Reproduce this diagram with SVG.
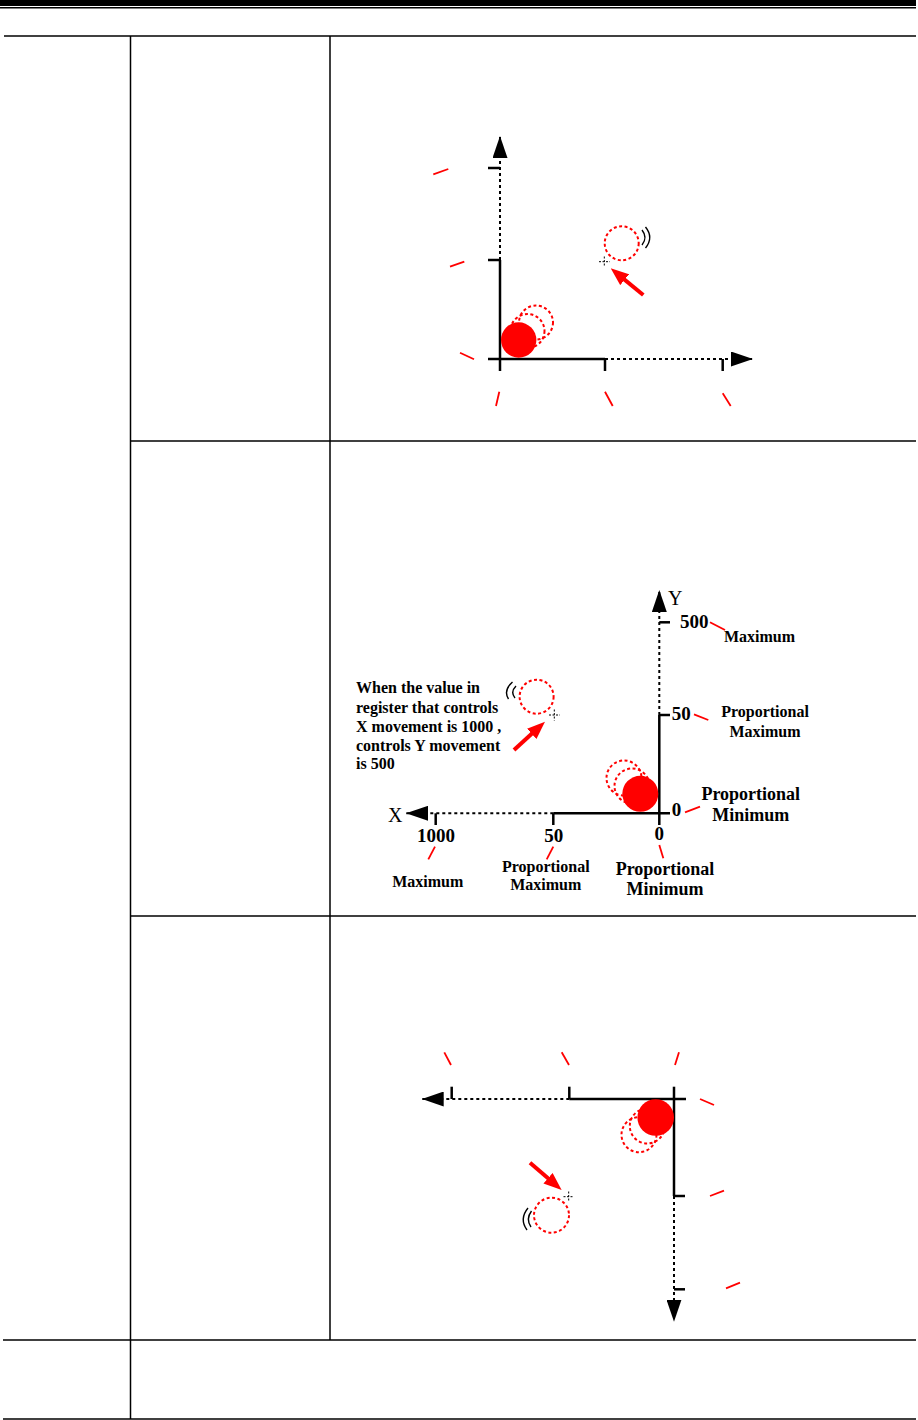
<svg xmlns="http://www.w3.org/2000/svg" width="918" height="1420" viewBox="0 0 918 1420">
<style>
.grid{stroke:#000;stroke-width:1.5;fill:none}
.axis{stroke:#000;stroke-width:2.5;fill:none}
.dot{stroke:#000;stroke-width:2;stroke-dasharray:3 3;fill:none}
.lead{stroke:#f00;stroke-width:1.8;fill:none}
.ghost{fill:none;stroke:#f00;stroke-width:2;stroke-dasharray:3 2.5}
.ball{fill:#f00}
.wave{fill:none;stroke:#000;stroke-width:1.4}
.cross{stroke:#000;stroke-width:1;stroke-dasharray:2 1.5}
.push{stroke:#f00;stroke-width:4;fill:none}
.lb{font-family:"Liberation Serif","Times New Roman",serif;font-weight:bold;fill:#000}
.ax{font-family:"Liberation Serif","Times New Roman",serif;font-size:20px;fill:#000}
.s16{font-size:16px}
.s18{font-size:18px}
.s19{font-size:19px}
</style>
<defs>
<marker id="ah" markerUnits="userSpaceOnUse" markerWidth="22" markerHeight="15" refX="22" refY="7.5" orient="auto"><path d="M0,0 L22,7.5 L0,15 z" fill="#000"/></marker>
<marker id="rh" markerUnits="userSpaceOnUse" markerWidth="18" markerHeight="14" refX="10" refY="7" orient="auto"><path d="M0,0 L18,7 L0,14 z" fill="#f00"/></marker>
</defs>

<g id="frame">
<rect x="0" y="0" width="916" height="6" fill="#000"/>
<line class="grid" x1="0" y1="7.75" x2="916" y2="7.75"/>
<line class="grid" x1="4" y1="36" x2="916" y2="36"/>
<line class="grid" x1="130.5" y1="36" x2="130.5" y2="1419"/>
<line class="grid" x1="330" y1="36" x2="330" y2="1340"/>
<line class="grid" x1="130.5" y1="441" x2="916" y2="441"/>
<line class="grid" x1="130.5" y1="916" x2="916" y2="916"/>
<line class="grid" x1="3" y1="1340" x2="916" y2="1340"/>
<line class="grid" x1="3" y1="1419" x2="916" y2="1419"/>
</g>

<g id="panel1">
<line class="axis" x1="500" y1="359" x2="500" y2="260"/>
<line class="dot" x1="500" y1="260" x2="500" y2="136" marker-end="url(#ah)"/>
<line class="axis" x1="488" y1="359" x2="605" y2="359"/>
<line class="dot" x1="605" y1="359" x2="753" y2="359" marker-end="url(#ah)"/>
<line class="axis" x1="488" y1="168" x2="500" y2="168"/>
<line class="axis" x1="488" y1="260" x2="500" y2="260"/>
<line class="axis" x1="500" y1="359" x2="500" y2="371"/>
<line class="axis" x1="605" y1="359" x2="605" y2="371"/>
<line class="axis" x1="722.7" y1="359" x2="722.7" y2="371"/>
<line class="lead" x1="433.3" y1="174.3" x2="448.3" y2="169"/>
<line class="lead" x1="450" y1="266.7" x2="464.3" y2="261.7"/>
<line class="lead" x1="460" y1="352.7" x2="474" y2="359.3"/>
<line class="lead" x1="499.3" y1="391.7" x2="496" y2="406"/>
<line class="lead" x1="605" y1="391.7" x2="612.7" y2="406"/>
<line class="lead" x1="722.7" y1="393.3" x2="730.7" y2="406"/>
<circle class="ghost" cx="536" cy="322.5" r="17"/>
<circle class="ghost" cx="527.5" cy="331" r="17"/>
<circle class="ball" cx="518.7" cy="340" r="17.7"/>
<circle class="ghost" cx="621.7" cy="243.3" r="17"/>
<path class="wave" d="M642,230 Q648,237.5 642,245 M645.5,227 Q654,237.5 645.5,248"/>
<line class="cross" x1="599" y1="261.7" x2="610" y2="261.7"/>
<line class="cross" x1="604.3" y1="256.5" x2="604.3" y2="267"/>
<line class="push" x1="643.3" y1="295" x2="616.9" y2="273.4" marker-end="url(#rh)"/>
</g>

<g id="panel2">
<line class="axis" x1="659.3" y1="825" x2="659.3" y2="715"/>
<line class="dot" x1="659.3" y1="715" x2="659.3" y2="590" marker-end="url(#ah)"/>
<line class="axis" x1="659.3" y1="622.3" x2="670" y2="622.3"/>
<line class="axis" x1="659.3" y1="715" x2="670" y2="715"/>
<line class="axis" x1="553.3" y1="813.3" x2="670" y2="813.3"/>
<line class="dot" x1="553.3" y1="813.3" x2="406" y2="813.3" marker-end="url(#ah)"/>
<line class="axis" x1="435.7" y1="813.3" x2="435.7" y2="825"/>
<line class="axis" x1="553.3" y1="813.3" x2="553.3" y2="825"/>
<text class="ax" x="668" y="605">Y</text>
<text class="ax" x="388" y="821.7">X</text>
<text class="lb s19" x="680" y="627.7">500</text>
<text class="lb s19" x="671.7" y="720">50</text>
<text class="lb s19" x="671.7" y="816">0</text>
<text class="lb s19" x="436" y="841.7" text-anchor="middle">1000</text>
<text class="lb s19" x="553.7" y="841.7" text-anchor="middle">50</text>
<text class="lb s19" x="659.3" y="840" text-anchor="middle">0</text>
<line class="lead" x1="710" y1="622.3" x2="725" y2="630"/>
<line class="lead" x1="694" y1="714.3" x2="708.3" y2="720"/>
<line class="lead" x1="685" y1="812.3" x2="700" y2="806.7"/>
<line class="lead" x1="659.3" y1="845" x2="663.3" y2="858.3"/>
<line class="lead" x1="435" y1="846.7" x2="428.3" y2="859.3"/>
<line class="lead" x1="553.3" y1="846.7" x2="546.7" y2="859.3"/>
<text class="lb s16" x="759.5" y="642" text-anchor="middle">Maximum</text>
<text class="lb s16" x="765" y="716.7" text-anchor="middle">Proportional</text>
<text class="lb s16" x="765" y="736.7" text-anchor="middle">Maximum</text>
<text class="lb s18" x="750.8" y="800" text-anchor="middle">Proportional</text>
<text class="lb s18" x="750.8" y="820.7" text-anchor="middle">Minimum</text>
<text class="lb s18" x="665" y="875" text-anchor="middle">Proportional</text>
<text class="lb s18" x="665" y="895" text-anchor="middle">Minimum</text>
<text class="lb s16" x="427.7" y="887.3" text-anchor="middle">Maximum</text>
<text class="lb s16" x="545.8" y="871.7" text-anchor="middle">Proportional</text>
<text class="lb s16" x="545.8" y="890" text-anchor="middle">Maximum</text>
<text class="lb s16" x="356" y="693.3">When the value in</text>
<text class="lb s16" x="356" y="712.7">register that controls</text>
<text class="lb s16" x="356" y="731.7">X movement is 1000 ,</text>
<text class="lb s16" x="356" y="750.7">controls Y movement</text>
<text class="lb s16" x="356" y="769.3">is 500</text>
<circle class="ghost" cx="624" cy="778" r="17.5"/>
<circle class="ghost" cx="632" cy="786" r="17.5"/>
<circle class="ball" cx="640.3" cy="793.8" r="18"/>
<circle class="ghost" cx="536.6" cy="696.7" r="17"/>
<path class="wave" d="M516,686 Q510,692 515,698 M512.5,682 Q503,690.5 508.5,699"/>
<line class="cross" x1="549" y1="715" x2="560" y2="715"/>
<line class="cross" x1="554.3" y1="709.5" x2="554.3" y2="720.5"/>
<line class="push" x1="514" y1="750" x2="539.1" y2="727.1" marker-end="url(#rh)"/>
</g>

<g id="panel3">
<line class="axis" x1="569.3" y1="1099" x2="686" y2="1099"/>
<line class="dot" x1="569.3" y1="1099" x2="421.7" y2="1099" marker-end="url(#ah)"/>
<line class="axis" x1="451.7" y1="1086.7" x2="451.7" y2="1099"/>
<line class="axis" x1="569.3" y1="1086.7" x2="569.3" y2="1099"/>
<line class="axis" x1="674" y1="1086.7" x2="674" y2="1196"/>
<line class="dot" x1="674" y1="1196" x2="674" y2="1321.7" marker-end="url(#ah)"/>
<line class="axis" x1="674" y1="1196" x2="685" y2="1196"/>
<line class="axis" x1="674" y1="1289.3" x2="685" y2="1289.3"/>
<line class="lead" x1="444.3" y1="1052.3" x2="451" y2="1065"/>
<line class="lead" x1="561.7" y1="1052.3" x2="569" y2="1065"/>
<line class="lead" x1="679" y1="1052.3" x2="675" y2="1065"/>
<line class="lead" x1="700" y1="1099" x2="714" y2="1105"/>
<line class="lead" x1="710" y1="1196" x2="724" y2="1190.7"/>
<line class="lead" x1="726" y1="1288.3" x2="740" y2="1282.7"/>
<circle class="ghost" cx="639" cy="1134.7" r="17.5"/>
<circle class="ghost" cx="647.3" cy="1126" r="17.5"/>
<circle class="ball" cx="655.7" cy="1117.5" r="18.3"/>
<circle class="ghost" cx="551.5" cy="1215.2" r="17.5"/>
<path class="wave" d="M531.5,1211 Q525.5,1219 531,1227 M528,1208 Q519,1219 527,1230"/>
<line class="cross" x1="563.5" y1="1196.7" x2="574" y2="1196.7"/>
<line class="cross" x1="568.7" y1="1191.5" x2="568.7" y2="1202"/>
<line class="push" x1="530" y1="1162.7" x2="555.6" y2="1184.8" marker-end="url(#rh)"/>
</g>
</svg>
